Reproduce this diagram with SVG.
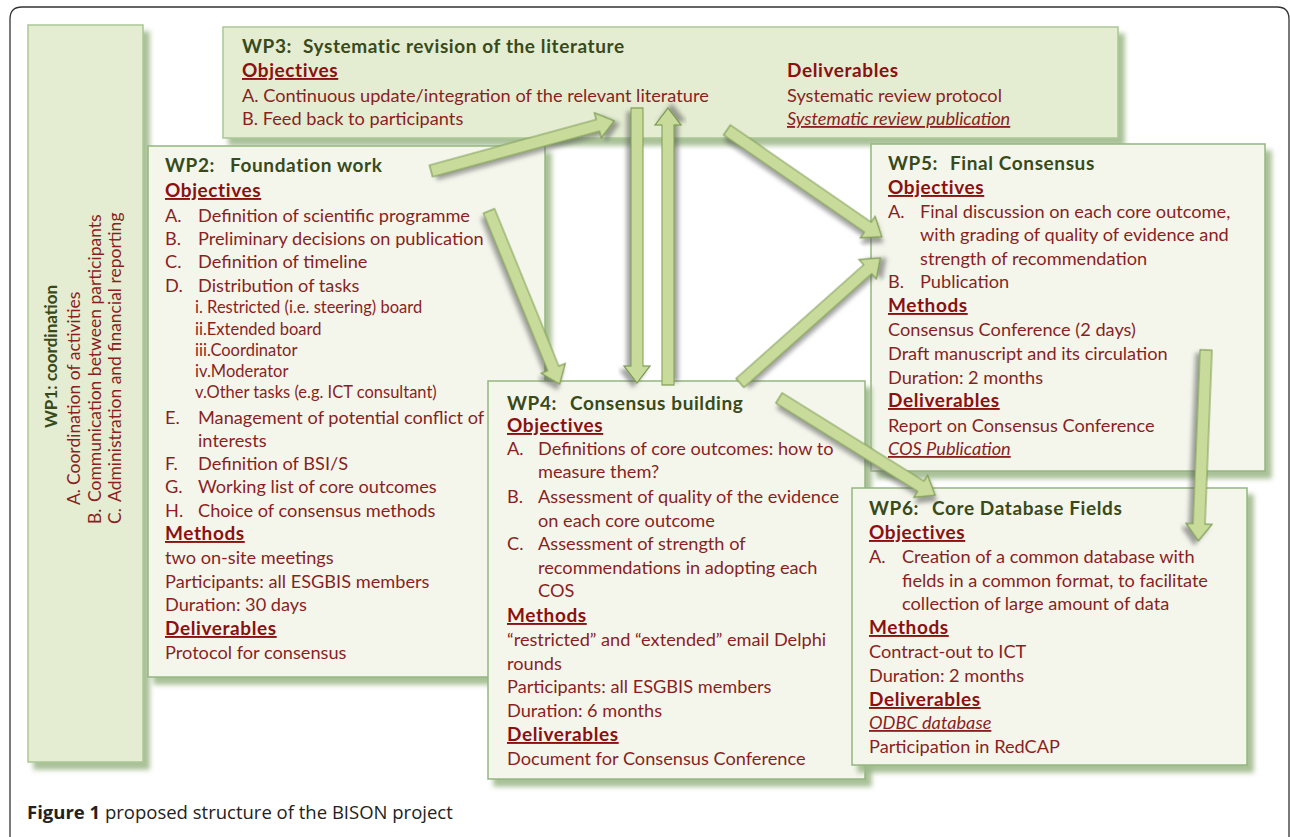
<svg xmlns="http://www.w3.org/2000/svg" width="1290" height="837" viewBox="0 0 1290 837">
<defs>
<filter id="bsh" x="-5%" y="-5%" width="115%" height="115%">
<feDropShadow dx="6" dy="7" stdDeviation="2.5" flood-color="#9fb98b" flood-opacity="0.9"/>
</filter>
<filter id="ash" x="-20%" y="-20%" width="140%" height="140%">
<feDropShadow dx="4" dy="4" stdDeviation="2" flood-color="#555" flood-opacity="0.55"/>
</filter>
<style>
text{font-family:Lato,"Open Sans",sans-serif;font-size:18.2px;fill:#8a1f1f}
.ti{font-weight:bold;fill:#394a1a;font-size:19px;letter-spacing:0.6px}
.t1{font-weight:bold;fill:#394a1a;font-size:17px}
.h{font-weight:bold;fill:#8b1010;text-decoration:underline;font-size:19px;letter-spacing:0.6px}
.hn{font-weight:bold;fill:#8b1010;font-size:19px;letter-spacing:0.6px}
.it{font-style:italic;text-decoration:underline}
.s{font-size:16.5px}
.w1{font-size:17.5px}
.cream{fill:#f4f6ec;stroke:#94b77e;stroke-width:1.5;filter:url(#bsh)}
.green{fill:#e4ecd2;stroke:#aac795;stroke-width:1.5;filter:url(#bsh)}
.arr{fill:#c8db9a;stroke:#7e9c52;stroke-width:1.2;filter:url(#ash)}
.cap{font-family:"Open Sans",Lato,sans-serif;font-size:18.5px;fill:#222}
</style>
</defs>
<rect width="1290" height="837" fill="#fff"/>
<path d="M10,845 V19 Q10,7 22,7 H1277 Q1289,7 1289,19 V845" fill="none" stroke="#333" stroke-width="1.3"/>

<g id="wp1">
<rect class="green" x="28" y="25" width="115" height="737"/>
<text class="t1" transform="translate(57,428) rotate(-90)">WP1:<tspan x="47">coordination</tspan></text>
<text class="w1" transform="translate(80,505) rotate(-90)">A.<tspan x="20">Coordination of activities</tspan></text>
<text class="w1" transform="translate(101,524) rotate(-90)">B.<tspan x="22">Communication between participants</tspan></text>
<text class="w1" transform="translate(121,524) rotate(-90)">C.<tspan x="22">Administration and financial reporting</tspan></text>
</g>

<g id="wp3">
<rect class="green" x="223" y="27" width="895" height="111"/>
<text class="ti" x="242" y="53">WP3:<tspan x="303">Systematic revision of the literature</tspan></text>
<text class="h" x="242" y="77">Objectives</text>
<text x="242" y="102">A. Continuous update/integration of the relevant literature</text>
<text x="242" y="125">B. Feed back to participants</text>
<text class="hn" x="787" y="77">Deliverables</text>
<text x="787" y="102">Systematic review protocol</text>
<text class="it" x="787" y="125">Systematic review publication</text>
</g>

<g id="wp2">
<rect class="cream" x="148" y="146" width="397" height="531"/>
<text class="ti" x="165" y="172">WP2:<tspan x="230">Foundation work</tspan></text>
<text class="h" x="165" y="197">Objectives</text>
<text x="165" y="222">A.<tspan x="198">Definition of scientific programme</tspan></text>
<text x="165" y="245">B.<tspan x="198">Preliminary decisions on publication</tspan></text>
<text x="165" y="268">C.<tspan x="198">Definition of timeline</tspan></text>
<text x="165" y="292">D.<tspan x="198">Distribution of tasks</tspan></text>
<text class="s" x="195" y="313">i. Restricted (i.e. steering) board</text>
<text class="s" x="195" y="335">ii.Extended board</text>
<text class="s" x="195" y="356">iii.Coordinator</text>
<text class="s" x="195" y="377">iv.Moderator</text>
<text class="s" x="195" y="398">v.Other tasks (e.g. ICT consultant)</text>
<text x="165" y="424">E.<tspan x="198">Management of potential conflict of</tspan></text>
<text x="198" y="447">interests</text>
<text x="165" y="470">F.<tspan x="198">Definition of BSI/S</tspan></text>
<text x="165" y="493">G.<tspan x="198">Working list of core outcomes</tspan></text>
<text x="165" y="517">H.<tspan x="198">Choice of consensus methods</tspan></text>
<text class="h" x="165" y="540">Methods</text>
<text x="165" y="564">two on-site meetings</text>
<text x="165" y="588">Participants: all ESGBIS members</text>
<text x="165" y="611">Duration: 30 days</text>
<text class="h" x="165" y="635">Deliverables</text>
<text x="165" y="659">Protocol for consensus</text>
</g>

<g id="wp5">
<rect class="cream" x="871" y="144" width="394" height="327"/>
<text class="ti" x="888" y="170">WP5:<tspan x="950">Final Consensus</tspan></text>
<text class="h" x="888" y="194">Objectives</text>
<text x="888" y="218">A.<tspan x="920">Final discussion on each core outcome,</tspan></text>
<text x="920" y="241">with grading of quality of evidence and</text>
<text x="920" y="265">strength of recommendation</text>
<text x="888" y="288">B.<tspan x="920">Publication</tspan></text>
<text class="h" x="888" y="312">Methods</text>
<text x="888" y="336">Consensus Conference (2 days)</text>
<text x="888" y="360">Draft manuscript and its circulation</text>
<text x="888" y="384">Duration: 2 months</text>
<text class="h" x="888" y="407">Deliverables</text>
<text x="888" y="432">Report on Consensus Conference</text>
<text class="it" x="888" y="455">COS Publication</text>
</g>

<g id="wp4">
<rect class="cream" x="488" y="381" width="377" height="398"/>
<text class="ti" x="507" y="410">WP4:<tspan x="570">Consensus building</tspan></text>
<text class="h" x="507" y="432">Objectives</text>
<text x="507" y="455">A.<tspan x="538">Definitions of core outcomes: how to</tspan></text>
<text x="538" y="478">measure them?</text>
<text x="507" y="503">B.<tspan x="538">Assessment of quality of the evidence</tspan></text>
<text x="538" y="527">on each core outcome</text>
<text x="507" y="550">C.<tspan x="538">Assessment of strength of</tspan></text>
<text x="538" y="574">recommendations in adopting each</text>
<text x="538" y="597">COS</text>
<text class="h" x="507" y="622">Methods</text>
<text x="507" y="646">“restricted” and “extended” email Delphi</text>
<text x="507" y="670">rounds</text>
<text x="507" y="693">Participants: all ESGBIS members</text>
<text x="507" y="717">Duration: 6 months</text>
<text class="h" x="507" y="741">Deliverables</text>
<text x="507" y="765">Document for Consensus Conference</text>
</g>

<g id="wp6">
<rect class="cream" x="852" y="488" width="395" height="277"/>
<text class="ti" x="869" y="515">WP6:<tspan x="932">Core Database Fields</tspan></text>
<text class="h" x="869" y="539">Objectives</text>
<text x="869" y="563">A.<tspan x="902">Creation of a common database with</tspan></text>
<text x="902" y="587">fields in a common format, to facilitate</text>
<text x="902" y="610">collection of large amount of data</text>
<text class="h" x="869" y="634">Methods</text>
<text x="869" y="658">Contract-out to ICT</text>
<text x="869" y="682">Duration: 2 months</text>
<text class="h" x="869" y="706">Deliverables</text>
<text class="it" x="869" y="729">ODBC database</text>
<text x="869" y="753">Participation in RedCAP</text>
</g>

<g id="connectors">
<path class="arr" transform="translate(431,171) rotate(-15.3)" d="M0,-6H173V-13L190,0L173,13V6H0Z"/>
<path class="arr" transform="translate(637,108) rotate(90)" d="M0,-6H258V-13L275,0L258,13V6H0Z"/>
<path class="arr" transform="translate(668,385) rotate(-90)" d="M0,-6H260V-13L277,0L260,13V6H0Z"/>
<path class="arr" transform="translate(727,130) rotate(34.6)" d="M0,-6H171V-13L188,0L171,13V6H0Z"/>
<path class="arr" transform="translate(740,383) rotate(-41.7)" d="M0,-6H171V-13L188,0L171,13V6H0Z"/>
<path class="arr" transform="translate(489,211) rotate(67.8)" d="M0,-6H170V-13L187,0L170,13V6H0Z"/>
<path class="arr" transform="translate(779,398) rotate(31.9)" d="M0,-6H167V-13L184,0L167,13V6H0Z"/>
<path class="arr" transform="translate(1206,350) rotate(92.3)" d="M0,-6H174V-13L191,0L174,13V6H0Z"/>
</g>

<text class="cap" x="27" y="819"><tspan font-weight="bold">Figure 1</tspan> proposed structure of the BISON project</text>
</svg>
